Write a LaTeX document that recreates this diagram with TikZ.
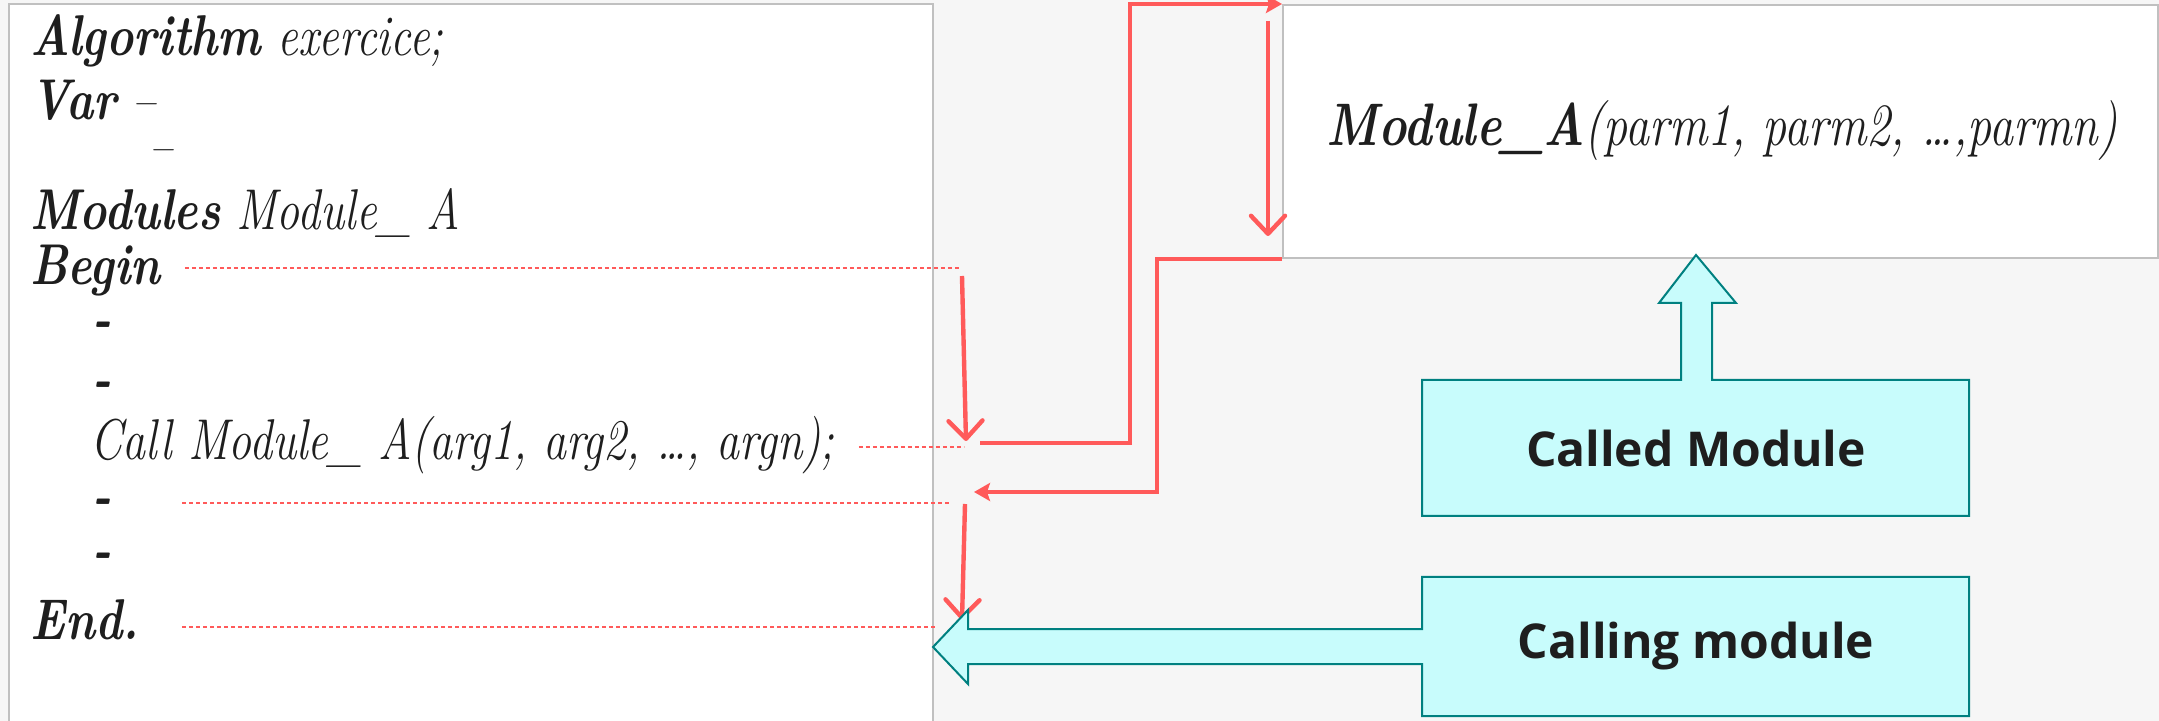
\documentclass[tikz,border=0pt]{standalone}
\usepackage{fontspec}
\usepackage{graphicx}
\newfontfamily\lblfont{Open Sans}
\usetikzlibrary{arrows.meta}
\definecolor{bgc}{RGB}{246,246,246}
\definecolor{boxgray}{RGB}{192,192,192}
\definecolor{redc}{RGB}{255,90,90}
\definecolor{tealc}{RGB}{0,128,128}
\definecolor{cyanc}{RGB}{200,252,252}
\definecolor{txt}{RGB}{30,30,30}
\newcommand{\tallt}[1]{\scalebox{1}[1.25]{#1}}
\tikzset{
  code/.style={anchor=west, inner sep=0pt, font=\fontsize{23}{27}\selectfont\itshape, text=txt},
  guide/.style={redc, line width=0.6pt, dash pattern=on 2pt off 1.5pt},
  flow/.style={redc, line width=2.2pt},
  barb/.style={-{Straight Barb[length=9pt,width=17pt,round]}},
  tri/.style={-{Stealth[length=8pt,width=9pt,inset=1.5pt]}},
  block/.style={fill=cyanc, draw=tealc, line width=1pt},
  lbl/.style={font=\lblfont\bfseries\fontsize{24}{27}\selectfont, text=txt, inner sep=0pt}
}
\begin{document}
\begin{tikzpicture}[x=0.5pt,y=-0.5pt]
\fill[bgc] (0,0) rectangle (2159,721);
\useasboundingbox (0,0) rectangle (2159,721);
% left code box
\fill[white] (9,4) rectangle (933,721);
\draw[boxgray, line width=1pt] (9,721) -- (9,4) -- (933,4) -- (933,721);
% right module box
\node[draw=boxgray, line width=1pt, fill=white, minimum width=875pt/2, minimum height=253pt/2, inner sep=0pt, anchor=north west] (mod) at (1282,4) {};
\node[code, anchor=center, font=\fontsize{24}{28}\selectfont\itshape] (modtxt) at (1722,131) {\tallt{\textbf{Module\_A}(parm1, parm2, \dots,parmn)}};
% code lines
\node[code] (l1) at (30,41) {\tallt{\textbf{Algorithm} exercice;}};
\node[code] (l2) at (30,100) {\tallt{\textbf{Var} --}};
\node[code] (l3) at (149,158) {\tallt{--}};
\node[code] (l4) at (30,213) {\tallt{\textbf{Modules} Module\_ A}};
\node[code] (l5) at (30,271) {\tallt{\textbf{Begin}}};
\node[code] (l6) at (92,330) {\tallt{\textbf{-}}};
\node[code] (l7) at (92,390) {\tallt{\textbf{-}}};
\node[code] (l8) at (90,445) {\tallt{Call Module\_ A(arg1, arg2, \dots, argn);}};
\node[code] (l9) at (92,507) {\tallt{\textbf{-}}};
\node[code] (l10) at (92,561) {\tallt{\textbf{-}}};
\node[code] (l11) at (30,620) {\tallt{\textbf{End.}}};
% guide lines
\coordinate (g1) at (961,268);
\coordinate (g2) at (964,447);
\coordinate (g3) at (950,503);
\coordinate (g4) at (936,627);
\draw[guide] ([xshift=12pt]l5.east |- g1) -- (g1);
\draw[guide] ([xshift=12pt]l8.east |- g2) -- (g2);
\draw[guide] (182,503) coordinate (g3s) -- (g3);
\draw[guide] (182,627) coordinate (g4s) -- (g4);
% flow arrows
\coordinate (a1s) at (962,276);
\coordinate (a1e) at (966,441);
\draw[flow, barb] (a1s) -- (a1e);
\coordinate (a2s) at (980,443);
\draw[flow, tri] (a2s) -- (1130,443) |- (mod.north west);
\coordinate (a3s) at (1268,21);
\coordinate (a3e) at (1268,236);
\draw[flow, barb] (a3s) -- (a3e);
\coordinate (a4e) at (974,492);
\draw[flow, tri] (mod.south west) -- ++(-125,0) |- (a4e);
\coordinate (a5s) at (965,504);
\coordinate (a5e) at (962,620);
\draw[flow, barb] (a5s) -- (a5e);
% called module block arrow
\draw[block] (1422,380) -- (1681,380) -- (1681,303) -- (1659,303) -- (1696,255) -- (1736,303) -- (1712,303) -- (1712,380) -- (1969,380) -- (1969,516) -- (1422,516) -- cycle;
\node[lbl] (called) at (1696,449) {Called Module};
% calling module block arrow
\draw[block] (1422,577) -- (1969,577) -- (1969,716) -- (1422,716) -- (1422,664) -- (968,664) -- (968,684) -- (933,647) -- (968,610) -- (968,629) -- (1422,629) -- cycle;
\node[lbl] (calling) at (1696,646) {Calling module};
\end{tikzpicture}
\end{document}
